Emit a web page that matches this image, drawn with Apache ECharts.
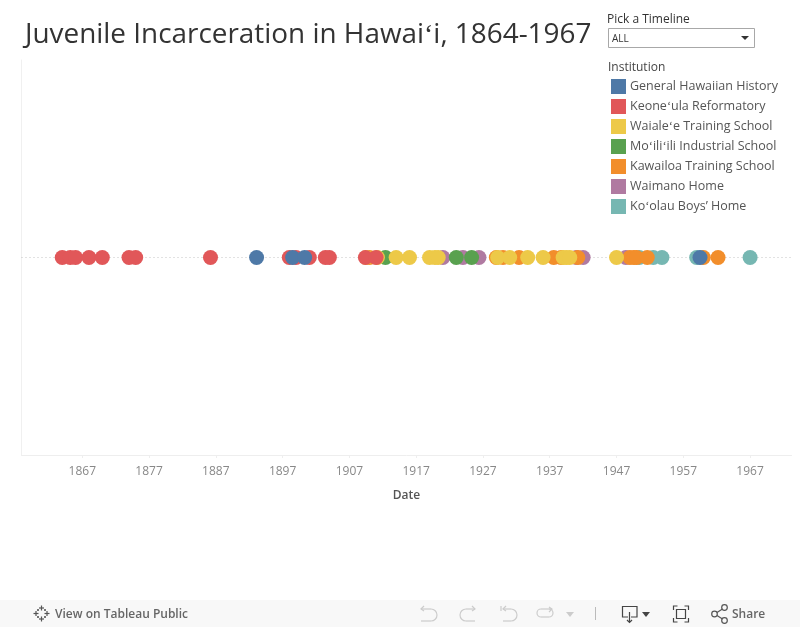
<!DOCTYPE html>
<html>
<head>
<meta charset="utf-8">
<title>Juvenile Incarceration in Hawaiʻi</title>
<script src="https://cdn.jsdelivr.net/npm/echarts@6/dist/echarts.min.js"></script>
<style>
  html, body { margin: 0; padding: 0; background: #fff; }
  #chart { width: 800px; height: 627px; }
</style>
</head>
<body>
<div id="chart"></div>
<script>
// years, one list per institution
const general = [1893.1, 1898.5, 1900.3, 1959.5];
const keoneula = [1864, 1865.2, 1866, 1868, 1870, 1874, 1875, 1886.2, 1898, 1899, 1901, 1903.4, 1904, 1909.4, 1911];
const waialee = [1909.5, 1911.2, 1914, 1916, 1919, 1919.8, 1920.3, 1929.2, 1931, 1933.7, 1936, 1939, 1939.5, 1940, 1947];
const moiliili = [1912.4, 1923, 1925.3];
const kawailoa = [1910, 1929, 1930, 1932.4, 1937.6, 1938.7, 1941.2, 1949, 1949.6, 1950, 1951.6, 1960, 1962.2];
const waimano = [1921, 1924, 1926.4, 1941, 1942, 1948.4];
const koolau = [1950.4, 1952.5, 1953.8, 1959, 1967];

const tickYears = [1867, 1877, 1887, 1897, 1907, 1917, 1927, 1937, 1947, 1957, 1967];
const legendNames = ['General Hawaiian History', 'Keoneʻula Reformatory', 'Waialeʻe Training School', 'Moʻiliʻili Industrial School', 'Kawailoa Training School', 'Waimano Home', 'Koʻolau Boys’ Home'];

const font = '"Open Sans"';

// draw order: last one ends up on top
const drawOrder = [
  [legendNames[6], koolau, '#76b7b2'],
  [legendNames[5], waimano, '#b07aa1'],
  [legendNames[4], kawailoa, '#f28e2b'],
  [legendNames[3], moiliili, '#59a14f'],
  [legendNames[2], waialee, '#edc948'],
  [legendNames[1], keoneula, '#e15759'],
  [legendNames[0], general, '#4e79a7']
];

const series = drawOrder.map(function (s, i) {
  const item = {
    name: s[0],
    type: 'scatter',
    symbol: 'circle',
    symbolSize: 15,
    z: 3,
    itemStyle: { color: s[2], opacity: 1 },
    data: s[1].map(function (y) { return [y, 0]; })
  };
  if (i === 0) {
    // dotted zero line, stays behind the dots
    item.markLine = {
      silent: true,
      z: 1,
      symbol: 'none',
      label: { show: false },
      lineStyle: { color: '#c4c4c4', type: [1, 3], width: 1 },
      data: [{ yAxis: 0 }],
      animation: false
    };
  }
  return item;
});

// toolbar drawing helpers
function pl(points, color) {
  return { type: 'polyline', silent: true, shape: { points: points }, style: { fill: null, stroke: color, lineWidth: 1.2 } };
}
function arc(cx, cy, r, a, b, color) {
  return { type: 'arc', silent: true, shape: { cx: cx, cy: cy, r: r, startAngle: a, endAngle: b, clockwise: true }, style: { fill: null, stroke: color, lineWidth: 1.2 } };
}
function ring(cx, cy, r, color) {
  return { type: 'circle', silent: true, shape: { cx: cx, cy: cy, r: r }, style: { fill: 'none', stroke: color, lineWidth: 1.2 } };
}
function tri(x, y, color) {
  return { type: 'polygon', silent: true, shape: { points: [[x, y], [x + 8, y], [x + 4, y + 5]] }, style: { fill: color } };
}
function plus(x, y, r, color) {
  return [pl([[x - r, y], [x + r, y]], color), pl([[x, y - r], [x, y + r]], color)];
}
function txt(t, x, y, size, color, weight) {
  return {
    type: 'text', x: x, y: y, silent: true,
    style: { text: t, fill: color, font: (weight || 'normal') + ' ' + size + 'px ' + font, textVerticalAlign: 'middle' }
  };
}

const hp = Math.PI / 2;
const graphics = [].concat(
  [
    txt('Pick a Timeline', 607, 19.5, 12, '#333'),
    { type: 'rect', shape: { x: 608.5, y: 28.5, width: 146, height: 19 }, style: { fill: '#fff', stroke: '#a8a8a8', lineWidth: 1 }, silent: true },
    txt('ALL', 612, 39.5, 10, '#333'),
    { type: 'polygon', shape: { points: [[741, 36], [749, 36], [745, 40]] }, style: { fill: '#333' }, silent: true },
    txt('Institution', 608, 68, 12, '#444'),
    // footer
    { type: 'rect', shape: { x: 0, y: 600, width: 800, height: 27 }, style: { fill: '#f8f8f8' }, silent: true, z: -1 }
  ],
  plus(41.5, 608, 2.5, '#555'), plus(41.5, 619, 2.5, '#555'), plus(36, 613.5, 2.5, '#555'), plus(47, 613.5, 2.5, '#555'),
  plus(38, 610, 1, '#555'), plus(45, 610, 1, '#555'), plus(38, 617, 1, '#555'), plus(45, 617, 1, '#555'),
  [
    txt('View on Tableau Public', 55, 615, 12, '#666', '600'),
    // undo
    pl([[424, 606], [421, 609], [424, 611]], '#ccc'), pl([[421, 609], [431, 609]], '#ccc'), arc(431, 615, 6, -hp, hp, '#ccc'), pl([[431, 621], [421, 621]], '#ccc'),
    // redo
    pl([[472, 606], [475, 609], [472, 611]], '#ccc'), pl([[475, 609], [466, 609]], '#ccc'), arc(466, 615, 6, hp, -hp, '#ccc'), pl([[466, 621], [475, 621]], '#ccc'),
    // revert
    pl([[501, 606], [501, 611]], '#ccc'), pl([[506, 606], [503, 609], [506, 611]], '#ccc'), pl([[503, 609], [511, 609]], '#ccc'), arc(511, 615, 6, -hp, hp, '#ccc'), pl([[511, 621], [503, 621]], '#ccc'),
    // refresh
    pl([[549, 607], [552, 609], [549, 612]], '#ccc'), pl([[552, 609], [541, 609]], '#ccc'), arc(541, 613, 4, hp, -hp, '#ccc'), pl([[541, 617], [549, 617]], '#ccc'), arc(549, 613, 4, -hp, hp, '#ccc'),
    tri(566, 612, '#ccc'),
    { type: 'line', shape: { x1: 595.5, y1: 607, x2: 595.5, y2: 620 }, style: { stroke: '#bbb', lineWidth: 1 }, silent: true },
    // download
    pl([[628, 617], [622.5, 617], [622.5, 606.5], [637, 606.5], [637, 617], [631, 617]], '#444'), pl([[629.5, 612], [629.5, 622]], '#444'), pl([[627, 620], [629.5, 622.5], [632, 620]], '#444'),
    tri(642, 612, '#444'),
    // fullscreen
    pl([[673.5, 610], [673.5, 606], [677.5, 606]], '#444'), pl([[684.5, 606], [688.5, 606], [688.5, 610]], '#444'),
    pl([[688.5, 618], [688.5, 622], [684.5, 622]], '#444'), pl([[677.5, 622], [673.5, 622], [673.5, 618]], '#444'),
    { type: 'rect', silent: true, shape: { x: 676.5, y: 609.5, width: 9, height: 9 }, style: { fill: 'none', stroke: '#444', lineWidth: 1.2 } },
    // share
    pl([[717, 612.5], [722.5, 609]], '#555'), pl([[717, 615.5], [722.5, 619]], '#555'),
    ring(714.5, 614, 2.8, '#555'), ring(724.5, 607.5, 2.8, '#555'), ring(724.5, 620.5, 2.8, '#555'),
    txt('Share', 732, 615, 12, '#666', '600')
  ]
);

const option = {
  animation: false,
  backgroundColor: '#fff',
  title: {
    text: 'Juvenile Incarceration in Hawaiʻi, 1864-1967',
    left: 25,
    top: 21,
    padding: 0,
    textStyle: { fontFamily: font, fontSize: 27.9, fontWeight: 'normal', color: '#333' }
  },
  legend: {
    orient: 'vertical',
    left: 611,
    top: 79,
    padding: 0,
    itemWidth: 15,
    itemHeight: 15,
    itemGap: 5,
    icon: 'rect',
    selectedMode: false,
    data: legendNames,
    textStyle: { fontFamily: font, fontSize: 12.5, color: '#555', padding: [4, 0, 0, -1] }
  },
  grid: { left: 21.5, right: 8.5, top: 60, bottom: 172 },
  xAxis: {
    type: 'value',
    min: 1857.9,
    max: 1973.2,
    name: 'Date',
    nameLocation: 'middle',
    nameGap: 35,
    nameTextStyle: { fontFamily: font, fontSize: 12, fontWeight: 600, color: '#555' },
    axisLine: { onZero: false, lineStyle: { color: '#eeeeee' } },
    axisTick: { length: 3, lineStyle: { color: '#eeeeee' }, customValues: tickYears },
    axisLabel: { fontFamily: font, fontSize: 12, color: '#888', margin: 11, customValues: tickYears, formatter: function (v) { return String(v); } },
    splitLine: { show: false }
  },
  yAxis: {
    type: 'value',
    min: -1,
    max: 1,
    axisLine: { show: true, lineStyle: { color: '#f0f0f0' } },
    axisTick: { show: false },
    axisLabel: { show: false },
    splitLine: { show: false }
  },
  series: series,
  graphic: graphics
};

const chart = echarts.init(document.getElementById('chart'));
chart.setOption(option);
</script>
</body>
</html>
